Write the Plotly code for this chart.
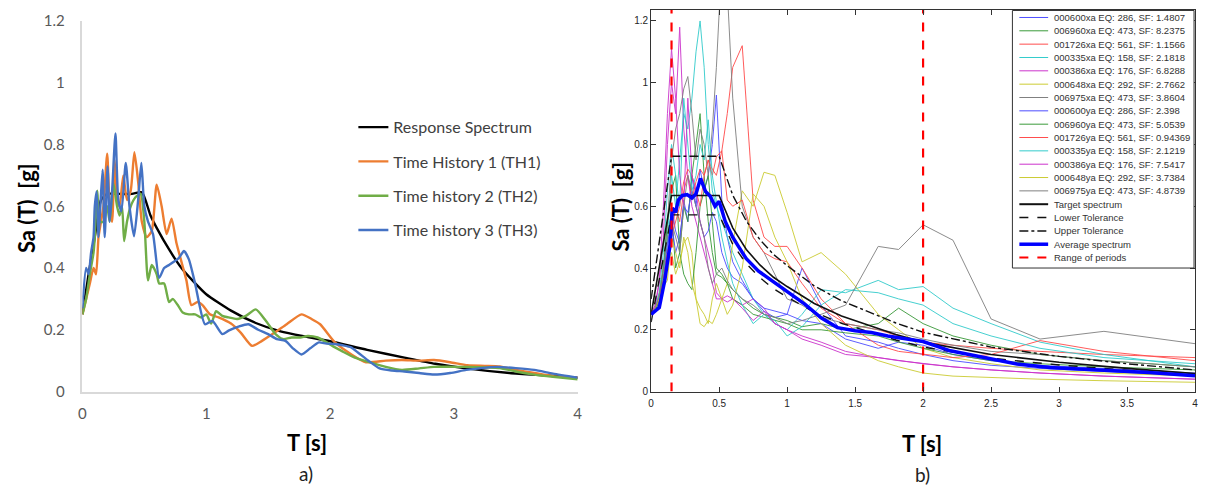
import plotly.graph_objects as go

# ---------------- Panel a data ----------------
T_rs = [0, 0.05, 0.1, 0.15, 0.2, 0.3, 0.4, 0.48, 0.55, 0.6, 0.7, 0.8, 0.9, 1.0, 1.2, 1.4, 1.6, 1.8, 2.0, 2.3, 2.6, 2.85, 3.1, 3.45, 3.75, 4.0]
Sa_rs = [0.25, 0.38, 0.5, 0.62, 0.64, 0.64, 0.64, 0.645, 0.57, 0.53, 0.46, 0.4, 0.355, 0.315, 0.262, 0.222, 0.195, 0.178, 0.163, 0.135, 0.11, 0.09, 0.075, 0.06, 0.052, 0.045]

T_th1 = [0, 0.03, 0.06, 0.09, 0.11, 0.13, 0.15, 0.17, 0.2, 0.22,
         0.24, 0.26, 0.28, 0.3, 0.33, 0.36, 0.39, 0.42, 0.45, 0.48,
         0.52, 0.56, 0.6, 0.64, 0.68, 0.72, 0.76, 0.8, 0.84, 0.88,
         0.93, 0.97, 1.03, 1.1, 1.2, 1.28, 1.37, 1.45, 1.55, 1.65,
         1.77, 1.85, 1.92, 2.04, 2.17, 2.29, 2.45, 2.58, 2.72, 2.84,
         2.97, 3.11, 3.25, 3.37, 3.5, 3.65, 3.8, 4.0]
Sa_th1 = [0.25, 0.3, 0.35, 0.4, 0.38, 0.5, 0.55, 0.6, 0.77, 0.6,
          0.55, 0.75, 0.62, 0.6, 0.7, 0.62, 0.65, 0.775, 0.68, 0.55,
          0.5, 0.52, 0.67, 0.6, 0.51, 0.56, 0.48, 0.42, 0.36, 0.28,
          0.29, 0.28, 0.25, 0.24, 0.22, 0.19, 0.148, 0.164, 0.19, 0.218,
          0.25, 0.235, 0.218, 0.159, 0.121, 0.095, 0.1, 0.102, 0.1, 0.102,
          0.095, 0.085, 0.083, 0.081, 0.07, 0.06, 0.05, 0.045]

T_th2 = [0, 0.03, 0.06, 0.09, 0.1, 0.12, 0.14, 0.17, 0.2, 0.22,
         0.25, 0.28, 0.3, 0.32, 0.337, 0.36, 0.39, 0.43, 0.47, 0.5,
         0.53, 0.56, 0.6, 0.62, 0.66, 0.7, 0.73, 0.77, 0.81, 0.86,
         0.91, 0.96, 1.0, 1.04, 1.08, 1.13, 1.18, 1.25, 1.32, 1.4,
         1.48, 1.56, 1.62, 1.69, 1.76, 1.82, 1.9, 1.97, 2.04, 2.1,
         2.2, 2.31, 2.45, 2.58, 2.72, 2.84, 3.0, 3.11, 3.25, 3.37,
         3.5, 3.65, 3.8, 4.0]
Sa_th2 = [0.25, 0.3, 0.38, 0.45, 0.5, 0.65, 0.55, 0.55, 0.6, 0.55,
          0.675, 0.6, 0.57, 0.6, 0.487, 0.55, 0.6, 0.63, 0.64, 0.55,
          0.36, 0.41, 0.38, 0.35, 0.35, 0.29, 0.3, 0.28, 0.256, 0.25,
          0.25, 0.24, 0.25, 0.22, 0.26, 0.245, 0.24, 0.235, 0.245, 0.266,
          0.23, 0.186, 0.17, 0.175, 0.175, 0.18, 0.175, 0.16, 0.143, 0.13,
          0.11, 0.096, 0.08, 0.07, 0.075, 0.08, 0.08, 0.08, 0.078, 0.076,
          0.065, 0.055, 0.048, 0.04]

T_th3 = [0, 0.03, 0.05, 0.07, 0.09, 0.1, 0.115, 0.13, 0.145, 0.163,
         0.18, 0.203, 0.22, 0.24, 0.267, 0.29, 0.315, 0.35, 0.38, 0.417,
         0.45, 0.476, 0.5, 0.53, 0.57, 0.62, 0.66, 0.7, 0.78, 0.82,
         0.86, 0.91, 0.99, 1.05, 1.13, 1.18, 1.26, 1.34, 1.42, 1.5,
         1.57, 1.64, 1.7, 1.77, 1.84, 1.91, 1.97, 2.04, 2.1, 2.17,
         2.23, 2.31, 2.4, 2.5, 2.6, 2.72, 2.84, 2.97, 3.1, 3.22,
         3.35, 3.5, 3.65, 3.8, 4.0]
Sa_th3 = [0.27, 0.4, 0.38, 0.45, 0.5, 0.6, 0.648, 0.5, 0.6, 0.718,
          0.5, 0.729, 0.55, 0.65, 0.836, 0.62, 0.584, 0.74, 0.6, 0.503,
          0.62, 0.74, 0.6, 0.55, 0.51, 0.368, 0.4, 0.41, 0.433, 0.455,
          0.428, 0.35, 0.218, 0.229, 0.186, 0.197, 0.21, 0.218, 0.2, 0.186,
          0.17, 0.164, 0.14, 0.12, 0.14, 0.159, 0.155, 0.154, 0.15, 0.143,
          0.125, 0.1, 0.075, 0.068, 0.065, 0.06, 0.055, 0.06, 0.07, 0.076,
          0.08, 0.076, 0.07, 0.058, 0.045]

names_a = ["Response Spectrum", "Time History 1 (TH1)", "Time history 2 (TH2)", "Time history 3 (TH3)"]
colors_a = ["#000000", "#ED7D31", "#70AD47", "#4472C4"]

# ---------------- Panel b data ----------------
T_rec = [0, 0.03, 0.06, 0.09, 0.12, 0.15,
         0.18, 0.21, 0.24, 0.27, 0.3, 0.33,
         0.36, 0.39, 0.42, 0.45, 0.48, 0.52,
         0.56, 0.6, 0.67, 0.75, 0.83, 0.91,
         1.0, 1.11, 1.25, 1.43, 1.67, 1.82,
         2.0, 2.22, 2.5, 2.86, 3.33, 4.0]

rec_000600xa = [0.25, 0.26, 0.28, 0.33, 0.45, 0.6, 0.52, 0.48, 0.62, 0.55, 0.7, 0.6,
                0.72, 0.65, 0.7, 0.8, 0.96, 0.62, 0.5, 0.42, 0.36, 0.3, 0.26, 0.24,
                0.25, 0.4, 0.28, 0.18, 0.16, 0.14, 0.12, 0.1, 0.085, 0.075, 0.065, 0.05]
rec_006960xa = [0.25, 0.26, 0.3, 0.36, 0.5, 0.58, 0.4, 0.45, 0.6, 0.55, 0.7, 0.8,
                0.9, 0.7, 0.55, 0.45, 0.38, 0.37, 0.35, 0.33, 0.3, 0.27, 0.25, 0.24,
                0.23, 0.21, 0.22, 0.2, 0.22, 0.27, 0.22, 0.18, 0.15, 0.12, 0.1, 0.08]
rec_001726xa = [0.25, 0.27, 0.3, 0.37, 0.45, 0.5, 0.6, 0.55, 0.65, 0.7, 0.62, 0.68,
                0.72, 0.7, 0.75, 0.72, 0.7, 0.78, 0.9, 1.05, 1.12, 0.62, 0.5, 0.47,
                0.47, 0.4, 0.3, 0.22, 0.2, 0.18, 0.16, 0.15, 0.14, 0.13, 0.12, 0.11]
rec_000335xa = [0.25, 0.27, 0.3, 0.38, 0.5, 0.7, 0.6, 0.75, 0.9, 0.85, 0.95, 1.1,
                1.2, 1.05, 0.8, 0.65, 0.6, 0.55, 0.5, 0.45, 0.38, 0.3, 0.25, 0.22,
                0.2, 0.25, 0.33, 0.32, 0.36, 0.33, 0.34, 0.27, 0.22, 0.16, 0.12, 0.08]
rec_000386xa = [0.25, 0.28, 0.35, 0.5, 0.8, 1.0, 0.9, 1.18, 0.85, 0.7, 0.6, 0.55,
                0.5, 0.45, 0.4, 0.35, 0.3, 0.3, 0.31, 0.3, 0.28, 0.3, 0.27, 0.22,
                0.2, 0.18, 0.16, 0.13, 0.11, 0.1, 0.09, 0.08, 0.07, 0.06, 0.05, 0.04]
rec_000648xa = [0.25, 0.27, 0.3, 0.35, 0.42, 0.45, 0.38, 0.42, 0.48, 0.5, 0.45, 0.3,
                0.22, 0.21, 0.23, 0.22, 0.25, 0.3, 0.35, 0.48, 0.65, 0.6, 0.71, 0.7,
                0.58, 0.42, 0.45, 0.38, 0.25, 0.2, 0.14, 0.11, 0.09, 0.07, 0.06, 0.05]
rec_006975xa = [0.25, 0.27, 0.32, 0.4, 0.55, 0.75, 0.85, 0.9, 0.98, 1.02, 0.9, 0.75,
                0.85, 0.8, 0.7, 0.85, 1.05, 1.4, 1.3, 0.95, 0.6, 0.5, 0.45, 0.38,
                0.3, 0.28, 0.24, 0.22, 0.2, 0.19, 0.17, 0.15, 0.13, 0.12, 0.1, 0.08]
rec_000600ya = [0.25, 0.26, 0.29, 0.35, 0.48, 0.55, 0.45, 0.5, 0.6, 0.58, 0.65, 0.6,
                0.55, 0.5, 0.52, 0.58, 0.55, 0.45, 0.4, 0.37, 0.35, 0.3, 0.27, 0.26,
                0.25, 0.23, 0.22, 0.17, 0.14, 0.16, 0.15, 0.12, 0.1, 0.085, 0.075, 0.06]
rec_006960ya = [0.25, 0.26, 0.3, 0.4, 0.55, 0.65, 0.7, 0.45, 0.38, 0.35, 0.33, 0.45,
                0.6, 0.65, 0.7, 0.55, 0.4, 0.38, 0.35, 0.3, 0.28, 0.25, 0.24, 0.23,
                0.22, 0.2, 0.2, 0.19, 0.18, 0.16, 0.14, 0.12, 0.1, 0.09, 0.08, 0.07]
rec_001726ya = [0.25, 0.27, 0.3, 0.36, 0.45, 0.5, 0.55, 0.6, 0.68, 0.72, 0.7, 0.65,
                0.6, 0.7, 0.75, 0.7, 0.76, 0.78, 0.62, 0.6, 0.62, 0.5, 0.45, 0.43,
                0.42, 0.35, 0.27, 0.22, 0.15, 0.13, 0.12, 0.11, 0.12, 0.165, 0.13, 0.1]
rec_000335ya = [0.25, 0.27, 0.32, 0.45, 0.65, 0.8, 0.7, 0.6, 0.95, 0.8, 0.65, 0.7,
                0.8, 0.75, 0.88, 0.7, 0.62, 0.5, 0.42, 0.35, 0.28, 0.22, 0.25, 0.23,
                0.18, 0.21, 0.28, 0.33, 0.32, 0.3, 0.28, 0.22, 0.18, 0.14, 0.11, 0.09]
rec_000386ya = [0.25, 0.28, 0.36, 0.6, 0.9, 1.11, 0.95, 0.7, 0.6, 0.95, 0.7, 0.65,
                0.55, 0.5, 0.45, 0.4, 0.32, 0.3, 0.29, 0.3, 0.27, 0.23, 0.26, 0.22,
                0.2, 0.17, 0.15, 0.12, 0.11, 0.1, 0.09, 0.08, 0.07, 0.06, 0.05, 0.04]
rec_000648ya = [0.25, 0.27, 0.3, 0.34, 0.36, 0.5, 0.45, 0.4, 0.5, 0.45, 0.35, 0.3,
                0.27, 0.25, 0.22, 0.3, 0.35, 0.3, 0.25, 0.28, 0.4, 0.64, 0.6, 0.5,
                0.42, 0.3, 0.22, 0.15, 0.1, 0.08, 0.06, 0.05, 0.045, 0.04, 0.035, 0.03]
rec_006975ya = [0.25, 0.27, 0.31, 0.4, 0.5, 0.55, 0.5, 0.45, 0.6, 0.7, 0.65, 0.6,
                0.55, 0.5, 0.4, 0.35, 0.38, 0.4, 0.36, 0.33, 0.3, 0.28, 0.25, 0.24,
                0.22, 0.23, 0.25, 0.28, 0.47, 0.46, 0.54, 0.49, 0.235, 0.17, 0.195, 0.155]

records = [rec_000600xa, rec_006960xa, rec_001726xa, rec_000335xa, rec_000386xa, rec_000648xa, rec_006975xa,
           rec_000600ya, rec_006960ya, rec_001726ya, rec_000335ya, rec_000386ya, rec_000648ya, rec_006975ya]
record_labels = ["000600xa EQ: 286, SF: 1.4807", "006960xa EQ: 473, SF: 8.2375", "001726xa EQ: 561, SF: 1.1566",
                 "000335xa EQ: 158, SF: 2.1818", "000386xa EQ: 176, SF: 6.8288", "000648xa EQ: 292, SF: 2.7662",
                 "006975xa EQ: 473, SF: 3.8604", "000600ya EQ: 286, SF: 2.398", "006960ya EQ: 473, SF: 5.0539",
                 "001726ya EQ: 561, SF: 0.94369", "000335ya EQ: 158, SF: 2.1219", "000386ya EQ: 176, SF: 7.5417",
                 "000648ya EQ: 292, SF: 3.7384", "006975ya EQ: 473, SF: 4.8739"]
record_colors = ["#4d4dff", "#3a9a3a", "#ff4d4d", "#33cccc", "#cc33cc", "#cccc33", "#808080"] * 2

T_tgt = [0, 0.05, 0.1, 0.15, 0.5, 0.55, 0.6, 0.7, 0.8, 0.9, 1.0, 1.2, 1.4, 1.6, 1.8, 2.0, 2.25, 2.5, 3.0, 3.5, 4.0]
Sa_tgt = [0.25, 0.38, 0.51, 0.635, 0.635, 0.58, 0.53, 0.46, 0.41, 0.37, 0.34, 0.285, 0.245, 0.215, 0.185, 0.16, 0.14, 0.12, 0.095, 0.075, 0.058]
Sa_low = [0.225, 0.342, 0.459, 0.572, 0.572, 0.522, 0.477, 0.414, 0.369, 0.333, 0.306, 0.257, 0.221, 0.194, 0.167, 0.144, 0.126, 0.108, 0.086, 0.068, 0.052]
Sa_up = [0.30, 0.456, 0.612, 0.762, 0.762, 0.696, 0.636, 0.552, 0.492, 0.444, 0.408, 0.342, 0.294, 0.258, 0.222, 0.192, 0.168, 0.144, 0.114, 0.09, 0.07]

T_avg = [0, 0.06, 0.1, 0.14, 0.156, 0.18, 0.2, 0.23, 0.265, 0.3, 0.33, 0.363, 0.4, 0.435, 0.47, 0.5, 0.545, 0.6, 0.642, 0.7,
         0.79, 0.89, 1.0, 1.13, 1.25, 1.37, 1.5, 1.62, 1.74, 1.86, 2.0, 2.2, 2.44, 2.69, 2.93, 3.17, 3.42, 3.66, 4.0]
Sa_avg = [0.25, 0.272, 0.36, 0.476, 0.594, 0.58, 0.62, 0.635, 0.638, 0.627, 0.64, 0.69, 0.648, 0.632, 0.6, 0.616, 0.551, 0.5, 0.47, 0.43,
          0.39, 0.358, 0.326, 0.283, 0.239, 0.207, 0.197, 0.191, 0.18, 0.173, 0.162, 0.132, 0.111, 0.089, 0.078, 0.073, 0.068, 0.062, 0.051]

period_range = [0.15, 2.0]
extra_labels = ["Target spectrum", "Lower Tolerance", "Upper Tolerance", "Average spectrum", "Range of periods"]

# ---------------- Figure ----------------
W, H = 1205, 491
# The captured page shows the figure shifted down by the page margin and
# slightly compressed vertically; these helpers map target picture pixels
# to paper coordinates accordingly.
TOP, SY = 8.0, 0.967
def px(x):
    return x / W
def fy(y):
    return (y - TOP) / SY
def py(y):
    return 1 - fy(y) / H

fig = go.Figure()

# Panel a
for T, S, nm, c in zip([T_rs, T_th1, T_th2, T_th3], [Sa_rs, Sa_th1, Sa_th2, Sa_th3], names_a, colors_a):
    fig.add_trace(go.Scatter(x=T, y=S, mode="lines", name=nm, legendgroup=nm,
                             line=dict(color=c, width=2.4, shape="spline", smoothing=0.6),
                             xaxis="x", yaxis="y"))

# Panel b records
for S, c, nm in zip(records, record_colors, record_labels):
    fig.add_trace(go.Scatter(x=T_rec, y=S, mode="lines", name=nm, showlegend=False,
                             line=dict(color=c, width=1), opacity=0.9, xaxis="x2", yaxis="y2"))
fig.add_trace(go.Scatter(x=T_tgt, y=Sa_tgt, mode="lines", name="Target spectrum", showlegend=False,
                         line=dict(color="#111111", width=1.6), xaxis="x2", yaxis="y2"))
fig.add_trace(go.Scatter(x=T_tgt, y=Sa_low, mode="lines", name="Lower Tolerance", showlegend=False,
                         line=dict(color="#111111", width=1.4, dash="dash"), xaxis="x2", yaxis="y2"))
fig.add_trace(go.Scatter(x=T_tgt, y=Sa_up, mode="lines", name="Upper Tolerance", showlegend=False,
                         line=dict(color="#111111", width=1.4, dash="dashdot"), xaxis="x2", yaxis="y2"))
fig.add_trace(go.Scatter(x=T_avg, y=Sa_avg, mode="lines", name="Average spectrum", showlegend=False,
                         line=dict(color="#0000ff", width=3.5), xaxis="x2", yaxis="y2"))
for tp in period_range:
    fig.add_trace(go.Scatter(x=[tp, tp], y=[0, 1.3], mode="lines", name="Range of periods", showlegend=False,
                             line=dict(color="#ff0000", width=2.2, dash="dash"), xaxis="x2", yaxis="y2"))

# Manual legend for panel b (box starts at the very top of the figure)
shapes = [dict(type="rect", xref="paper", yref="paper", x0=px(1016), x1=px(1199), y0=py(267), y1=0.999,
               fillcolor="white", line=dict(color="#333333", width=1), layer="above")]
annotations = []
leg_styles = [dict(color=c, width=1) for c in record_colors] + [
    dict(color="#111111", width=2), dict(color="#111111", width=1.5, dash="dash"),
    dict(color="#111111", width=1.5, dash="dashdot"), dict(color="#0000ff", width=3.5),
    dict(color="#ff0000", width=2, dash="dash")]
leg_labels = record_labels + extra_labels
row0, row_last = 15.5, 256.5
for i, (lab, st) in enumerate(zip(leg_labels, leg_styles)):
    yy = row0 + i * (row_last - row0) / 18
    shapes.append(dict(type="line", xref="paper", yref="paper", x0=px(1023), x1=px(1052), y0=py(yy), y1=py(yy),
                       line=st, layer="above"))
    annotations.append(dict(text=lab, xref="paper", yref="paper", x=px(1056), y=py(yy), xanchor="left",
                            yanchor="middle", showarrow=False,
                            font=dict(family="Liberation Sans, Arial", size=9.5, color="#333333")))

bold = dict(family="Lato, Calibri, sans-serif", size=22, color="#000000")
annotations += [
    dict(text="<b>Sa (T)\u00a0 [g]</b>", xref="paper", yref="paper", x=px(22), y=py(207), textangle=-90,
         showarrow=False, font=bold, xanchor="center", yanchor="middle"),
    dict(text="<b>T [s]</b>", xref="paper", yref="paper", x=px(305), y=py(442), showarrow=False, font=bold,
         xanchor="center", yanchor="middle"),
    dict(text="a)", xref="paper", yref="paper", x=px(304), y=py(473), showarrow=False,
         font=dict(family="Lato, Calibri, sans-serif", size=19, color="#222222"), xanchor="center", yanchor="middle"),
    dict(text="<b>Sa (T)\u00a0 [g]</b>", xref="paper", yref="paper", x=px(621), y=py(205), textangle=-90,
         showarrow=False, font=bold, xanchor="center", yanchor="middle"),
    dict(text="<b>T [s]</b>", xref="paper", yref="paper", x=px(925), y=py(443), showarrow=False, font=bold,
         xanchor="center", yanchor="middle"),
    dict(text="b)", xref="paper", yref="paper", x=px(925), y=py(474), showarrow=False,
         font=dict(family="Lato, Calibri, sans-serif", size=19, color="#222222"), xanchor="center", yanchor="middle"),
]

tick_a = dict(family="Lato, Calibri, sans-serif", size=15, color="#595959")
tick_b = dict(family="Liberation Sans, Arial", size=10, color="#262626")

# panel b y range: 0 at picture y=391, 1.2 at picture y=19, top of the plot at figure top
b_unit = (fy(391) - fy(19)) / 1.2
b_top = fy(391) / b_unit

fig.update_layout(
    width=W, height=H, margin=dict(l=0, r=0, t=0, b=0),
    paper_bgcolor="white", plot_bgcolor="white",
    showlegend=True,
    legend=dict(x=px(352), y=1 - 104 / H, xanchor="left", yanchor="top", bgcolor="rgba(0,0,0,0)",
                font=dict(family="Lato, Calibri, sans-serif", size=16, color="#404040"),
                tracegroupgap=10.5, itemwidth=30),
    xaxis=dict(domain=[px(79), px(578)], range=[0, 4], tickvals=[0, 1, 2, 3, 4], showgrid=False, zeroline=False,
               showline=True, linecolor="#d9d9d9", linewidth=1.5, ticks="", tickfont=tick_a,
               ticklabelstandoff=8, anchor="y"),
    yaxis=dict(domain=[py(391), py(19)], range=[0, 1.2], tickvals=[0, 0.2, 0.4, 0.6, 0.8, 1.0, 1.2],
               ticktext=["0", "0.2", "0.4", "0.6", "0.8", "1", "1.2"], showgrid=False, zeroline=False,
               showline=True, linecolor="#d9d9d9", linewidth=1.5, ticks="", tickfont=tick_a,
               ticklabelstandoff=13, anchor="x"),
    xaxis2=dict(domain=[px(652), px(1200)], range=[0, 4], tickvals=[0, 0.5, 1, 1.5, 2, 2.5, 3, 3.5, 4],
                ticktext=["0", "0.5", "1", "1.5", "2", "2.5", "3", "3.5", "4"], showgrid=False, zeroline=False,
                showline=True, mirror="ticks", linecolor="#333333", linewidth=1, ticks="inside", ticklen=5,
                tickcolor="#333333", tickfont=tick_b, ticklabelstandoff=2, anchor="y2"),
    yaxis2=dict(domain=[py(391), 1.0], range=[0, b_top], tickvals=[0, 0.2, 0.4, 0.6, 0.8, 1.0, 1.2],
                ticktext=["0", "0.2", "0.4", "0.6", "0.8", "1", "1.2"], showgrid=False, zeroline=False,
                showline=True, mirror="ticks", linecolor="#333333", linewidth=1, ticks="inside", ticklen=5,
                tickcolor="#333333", tickfont=tick_b, anchor="x2"),
    shapes=shapes, annotations=annotations,
)

fig.write_html("out.html")
